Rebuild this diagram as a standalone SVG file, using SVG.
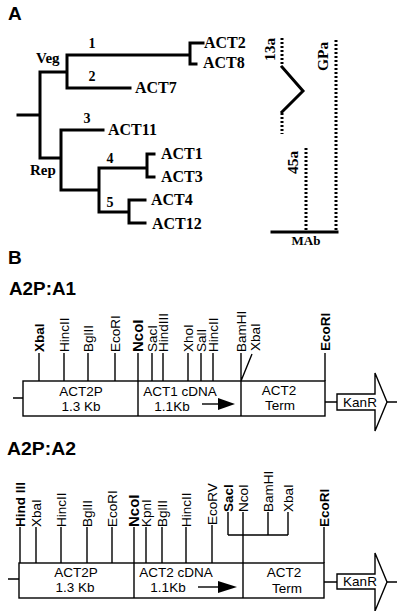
<svg xmlns="http://www.w3.org/2000/svg" width="400" height="611" viewBox="0 0 400 611">
<defs>
<style>
.tree{stroke:#000;stroke-width:3;fill:none;stroke-linecap:square}
.dot{stroke:#000;stroke-width:3;fill:none;stroke-dasharray:2 2}
.ln{stroke:#000;stroke-width:1.4;fill:none}
.box{stroke:#000;stroke-width:1.4;fill:#fff}
.ser{font-family:"Liberation Serif","Times New Roman",serif;font-weight:bold;fill:#000}
.act{font-size:16px}
.num{font-size:14px}
.vr{font-size:15px}
.rot{font-size:15.5px}
.pl{font-family:"Liberation Sans",Arial,sans-serif;font-weight:bold;font-size:19px;fill:#000}
.cn{font-family:"Liberation Sans",Arial,sans-serif;font-weight:bold;font-size:17.5px;fill:#000}
.site{font-family:"Liberation Sans",Arial,sans-serif;font-size:13.5px;fill:#000}
.b{font-weight:bold}
.lab{font-family:"Liberation Sans",Arial,sans-serif;font-size:13.5px;fill:#000;text-anchor:middle}
</style>
</defs>
<rect width="400" height="611" fill="#fff"/>

<!-- Panel A -->
<text class="pl" x="8" y="20">A</text>
<g id="tree">
<path class="tree" d="M18,115 H40 M40,72 V158 M40,72 H67 M67,55 V88 M67,55 H190 M190,43 V64 M190,43 H203 M190,64 H196 M67,88 H130 M40,158 H61 M61,130 V190 M61,130 H103 M61,190 H99 M99,168 V212 M99,168 H147 M147,154 V177 M147,154 H154 M147,177 H154 M99,212 H129 M129,200 V223 M129,200 H145 M129,223 H145"/>
<text class="ser vr" x="36" y="63">Veg</text>
<text class="ser vr" x="30" y="175">Rep</text>
<text class="ser num" x="92" y="48" text-anchor="middle">1</text>
<text class="ser num" x="92" y="81" text-anchor="middle">2</text>
<text class="ser num" x="87" y="123" text-anchor="middle">3</text>
<text class="ser num" x="110" y="163" text-anchor="middle">4</text>
<text class="ser num" x="110" y="207" text-anchor="middle">5</text>
<text class="ser act" x="204" y="48">ACT2</text>
<text class="ser act" x="203" y="68">ACT8</text>
<text class="ser act" x="135" y="93">ACT7</text>
<text class="ser act" x="108" y="135">ACT11</text>
<text class="ser act" x="161" y="159">ACT1</text>
<text class="ser act" x="161" y="182">ACT3</text>
<text class="ser act" x="151" y="205">ACT4</text>
<text class="ser act" x="152" y="229">ACT12</text>
</g>
<g id="mab">
<path class="dot" d="M282,38 V66 M282,113 V134 M336,40 V231 M306,148 V231"/>
<path class="tree" d="M282,67 L303,91 L282,112" stroke-linecap="butt"/>
<path class="tree" d="M272,232 H337" stroke-linecap="butt" stroke-width="2.5"/>
<text class="ser rot" transform="translate(275,61) rotate(-90)">13a</text>
<text class="ser rot" transform="translate(328,71) rotate(-90)">GPa</text>
<text class="ser rot" transform="translate(298,174) rotate(-90)">45a</text>
<text class="ser" font-size="13" x="306" y="245" text-anchor="middle">MAb</text>
</g>

<!-- Panel B -->
<text class="pl" x="8" y="264">B</text>

<g id="construct1">
<text class="cn" x="9" y="295" textLength="67" lengthAdjust="spacingAndGlyphs">A2P:A1</text>
<g class="connectors">
<path class="ln" d="M13,398 H23 M39,353 V381 M64,353 V381 M88,353 V381 M115,353 V381 M138,353 V381 M152,353 V381 M163,353 V381 M188,353 V381 M201,353 V381 M213,353 V381 M241,353 V381 M252,354 L241,381 M325,353 V381 M325,402 H337 M387,402 H397"/>
</g>
<rect class="box" x="23" y="381" width="302" height="35"/>
<path class="ln" d="M138,381 V416 M241,381 V416"/>
<g class="site">
<text class="b" transform="translate(43.5,352) rotate(-90)">XbaI</text>
<text transform="translate(68.5,352) rotate(-90)">HincII</text>
<text transform="translate(92.5,352) rotate(-90)">BglII</text>
<text transform="translate(119.5,352) rotate(-90)">EcoRI</text>
<text class="b" transform="translate(143,352) rotate(-90)" font-size="15">NcoI</text>
<text transform="translate(156.5,352) rotate(-90)">SacI</text>
<text transform="translate(167.5,352) rotate(-90)">HindIII</text>
<text transform="translate(192.5,352) rotate(-90)">XhoI</text>
<text transform="translate(205.5,352) rotate(-90)">SalI</text>
<text transform="translate(217.5,352) rotate(-90)">HincII</text>
<text transform="translate(245.5,352) rotate(-90)">BamHI</text>
<text transform="translate(259.5,351) rotate(-90)">XbaI</text>
<text class="b" transform="translate(329.5,351) rotate(-90)">EcoRI</text>
</g>
<text class="lab" x="81" y="396">ACT2P</text>
<text class="lab" x="81" y="411">1.3 Kb</text>
<text class="lab" x="180" y="396">ACT1 cDNA</text>
<text class="lab" x="172" y="411">1.1Kb</text>
<path class="ln" d="M202,404 H222"/>
<path d="M218,398 L235,404 L218,410 Z" fill="#000"/>
<text class="lab" x="279" y="395">ACT2</text>
<text class="lab" x="280" y="410">Term</text>
<path class="box" d="M337,394 H375 V373 L387,402 L375,431 V410 H337 Z"/>
<text class="lab" x="360" y="407">KanR</text>
</g>

<g id="construct2">
<text class="cn" x="7" y="455" textLength="69" lengthAdjust="spacingAndGlyphs">A2P:A2</text>
<g class="connectors">
<path class="ln" d="M8,579 H19 M20,527 V563 M36,527 V563 M61,527 V563 M87,527 V563 M112,527 V563 M134,527 V563 M146,527 V563 M162,527 V563 M186,527 V563 M212,525 V563 M228,512 V535 M243,512 V563 M268,512 V535 M288,512 V535 M228,535 H288 M324,527 V563 M324,582 H337 M387,582 H397"/>
</g>
<rect class="box" x="19" y="563" width="305" height="35"/>
<path class="ln" d="M134,563 V598 M243,563 V598"/>
<g class="site">
<text class="b" transform="translate(24.5,527) rotate(-90)">Hind III</text>
<text transform="translate(40.5,527) rotate(-90)">XbaI</text>
<text transform="translate(65.5,527) rotate(-90)">HincII</text>
<text transform="translate(91.5,527) rotate(-90)">BglII</text>
<text transform="translate(116.5,527) rotate(-90)">EcoRI</text>
<text class="b" transform="translate(139,527) rotate(-90)" font-size="15">NcoI</text>
<text transform="translate(150.5,527) rotate(-90)">KpnI</text>
<text transform="translate(166.5,527) rotate(-90)">BglII</text>
<text transform="translate(190.5,527) rotate(-90)">HincII</text>
<text transform="translate(216.5,525) rotate(-90)">EcoRV</text>
<text class="b" transform="translate(232.5,512) rotate(-90)">SacI</text>
<text transform="translate(247.5,512) rotate(-90)">NcoI</text>
<text transform="translate(272.5,512) rotate(-90)">BamHI</text>
<text transform="translate(292.5,512) rotate(-90)">XbaI</text>
<text class="b" transform="translate(328.5,527) rotate(-90)">EcoRI</text>
</g>
<text class="lab" x="76" y="577">ACT2P</text>
<text class="lab" x="75" y="592">1.3 Kb</text>
<text class="lab" x="176" y="577">ACT2 cDNA</text>
<text class="lab" x="168" y="592">1.1Kb</text>
<path class="ln" d="M198,587 H222"/>
<path d="M218,581 L237,587 L218,593 Z" fill="#000"/>
<text class="lab" x="284" y="577">ACT2</text>
<text class="lab" x="287" y="593">Term</text>
<path class="box" d="M337,574 H375 V553 L387,582 L375,611 V589 H337 Z"/>
<text class="lab" x="360" y="586">KanR</text>
</g>
</svg>
